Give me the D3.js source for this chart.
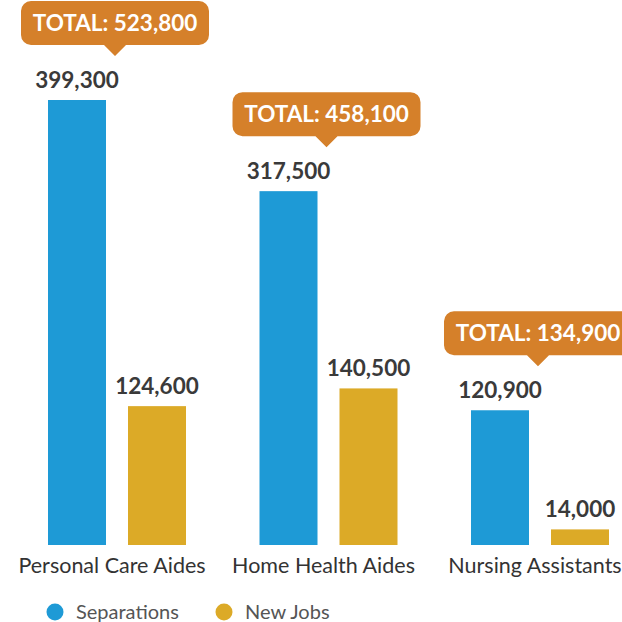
<!DOCTYPE html>
<html>
<head>
<meta charset="utf-8">
<script src="https://cdn.jsdelivr.net/npm/d3@7"></script>
<style>
  body { margin: 0; background: #fff; }
  svg { display: block; font-family: Lato, "Open Sans", sans-serif; }
</style>
</head>
<body>
<div id="chart"></div>
<script>
// Chart data
const categories = ["Personal Care Aides", "Home Health Aides", "Nursing Assistants"];
const seriesNames = ["Separations", "New Jobs"];
const separations = [399300, 317500, 120900];
const newJobs = [124600, 140500, 14000];
const totals = [523800, 458100, 134900];

const colors = { "Separations": "#1E9AD6", "New Jobs": "#DCAA27" };
const calloutColor = "#D5802A";

const width = 622, height = 622;
const baseline = 545;

const svg = d3.select("#chart").append("svg")
    .attr("width", width)
    .attr("height", height);

// group scale
let x0 = d3.scaleBand()
    .domain(categories)
    .range([48, 609])
    .paddingInner(0.3475)
    .paddingOuter(0);

let x1 = d3.scaleBand()
    .domain(seriesNames)
    .range([0, x0.bandwidth()])
    .paddingInner(0.275);

let y = d3.scaleLinear()
    .domain([0, 399300])
    .range([baseline, 100]);

const rows = categories.map((c, i) => ({
    cat: c,
    total: totals[i],
    values: [
        { key: "Separations", value: separations[i] },
        { key: "New Jobs", value: newJobs[i] }
    ]
}));

const fmt = d3.format(",");

const groups = svg.selectAll(".grp")
    .data(rows)
    .enter().append("g")
    .attr("class", "grp")
    .attr("transform", d => `translate(${x0(d.cat)},0)`);

// bars
groups.selectAll("rect")
    .data(d => d.values)
    .enter().append("rect")
    .attr("x", d => x1(d.key))
    .attr("width", x1.bandwidth())
    .attr("y", d => y(d.value))
    .attr("height", d => baseline - y(d.value))
    .attr("fill", d => colors[d.key]);

// value labels
groups.selectAll(".val")
    .data(d => d.values)
    .enter().append("text")
    .attr("class", "val")
    .attr("x", d => x1(d.key) + x1.bandwidth() / 2)
    .attr("y", d => y(d.value) - 12)
    .attr("text-anchor", "middle")
    .attr("font-size", 22.5)
    .attr("font-weight", 700)
    .attr("fill", "#3a3a3a")
    .text(d => fmt(d.value));

// category labels
groups.append("text")
    .attr("x", x0.bandwidth() / 2 - 5)
    .attr("y", 573)
    .attr("text-anchor", "middle")
    .attr("font-size", 21.5)
    .attr("fill", "#333")
    .text(d => d.cat);

// callouts with totals
const boxW = 188, boxH = 44, r = 10, tip = 11;
groups.each(function (d) {
    const g = d3.select(this);
    const cx = x0.bandwidth() / 2 - 2;
    const top = d3.min(d.values, v => y(v.value));
    const bottom = top - 55;
    const boxTop = bottom - boxH;
    const left = cx - boxW / 2;
    const path = d3.path();
    path.moveTo(left + r, boxTop);
    path.lineTo(left + boxW - r, boxTop);
    path.arcTo(left + boxW, boxTop, left + boxW, boxTop + r, r);
    path.lineTo(left + boxW, bottom - r);
    path.arcTo(left + boxW, bottom, left + boxW - r, bottom, r);
    path.lineTo(cx + tip, bottom);
    path.lineTo(cx, bottom + tip);
    path.lineTo(cx - tip, bottom);
    path.lineTo(left + r, bottom);
    path.arcTo(left, bottom, left, bottom - r, r);
    path.lineTo(left, boxTop + r);
    path.arcTo(left, boxTop, left + r, boxTop, r);
    path.closePath();
    g.append("path")
        .attr("d", path.toString())
        .attr("fill", calloutColor);
    g.append("text")
        .attr("x", cx)
        .attr("y", boxTop + boxH / 2 + 8)
        .attr("text-anchor", "middle")
        .attr("font-size", 22.5)
        .attr("font-weight", 700)
        .attr("fill", "#fff")
        .text("TOTAL: " + fmt(d.total));
});

// legend
const legend = svg.append("g").attr("transform", "translate(0,612)");
const legX = [55, 224];
seriesNames.forEach((s, i) => {
    legend.append("circle")
        .attr("cx", legX[i])
        .attr("cy", 0)
        .attr("r", 8.5)
        .attr("fill", colors[s]);
    legend.append("text")
        .attr("x", legX[i] + 21)
        .attr("y", 7)
        .attr("font-size", 20)
        .attr("fill", "#555")
        .text(s);
});
</script>
</body>
</html>
